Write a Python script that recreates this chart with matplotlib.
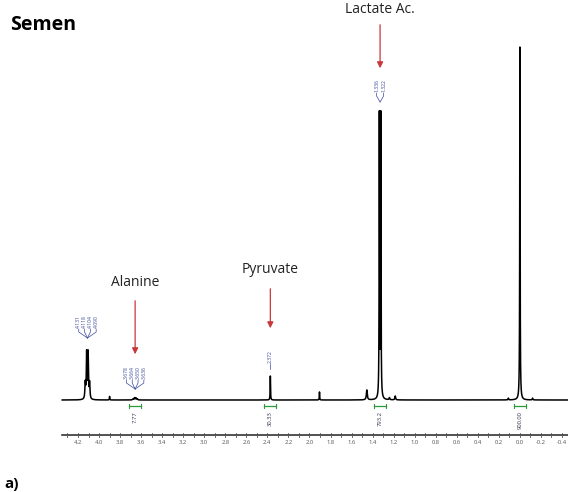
import numpy as np
import matplotlib
matplotlib.use("Agg")
import matplotlib.pyplot as plt

plt.rcParams['font.family'] = ['Open Sans', 'DejaVu Sans']

# ---- data (ppm, relative intensity where TSP = 100) ----
peak_ppm    = [4.131, 4.118, 4.104, 4.090, 3.900, 3.678, 3.664, 3.650, 3.636,
               2.372, 1.905, 1.455, 1.336, 1.322, 1.240, 1.185, 0.110, 0.000, -0.120]
peak_height = [4.5, 13.0, 13.0, 4.5, 1.0, 0.3, 0.6, 0.6, 0.3,
               6.8, 2.3, 2.8, 80.0, 80.0, 0.6, 1.1, 0.5, 100.0, 0.5]
peak_width  = [0.004, 0.0035, 0.0035, 0.004, 0.002, 0.004, 0.004, 0.004, 0.004,
               0.002, 0.002, 0.005, 0.0022, 0.0022, 0.004, 0.004, 0.003, 0.0022, 0.003]

integral_ppm = [3.657, 2.372, 1.329, 0.000]
integral_txt = ["7.77", "30.33", "793.2", "900.00"]

assign_ppm   = [3.657, 2.372, 1.329]
assign_names = ["Alanine", "Pyruvate", "Lactate Ac."]

multiplets = [
    (4.110, ["4.131", "4.118", "4.104", "4.090"]),
    (3.657, ["3.678", "3.664", "3.650", "3.636"]),
    (2.372, ["2.372"]),
    (1.329, ["1.336", "1.322"]),
]

tick_values = [4.2, 4.0, 3.8, 3.6, 3.4, 3.2, 3.0, 2.8, 2.6, 2.4, 2.2, 2.0,
               1.8, 1.6, 1.4, 1.2, 1.0, 0.8, 0.6, 0.4, 0.2, 0.0, -0.2, -0.4]

# ---- figure ----
fig = plt.figure(figsize=(5.68, 4.92), dpi=100)
ax = fig.add_axes([0, 0, 1, 1])
ax.axis('off')
pxu = 105.22          # pixels per ppm
ypu = 3.53            # pixels per intensity unit
ax.set_xlim(4.2 + 78 / pxu, -0.4 - 6 / pxu)
ax.set_ylim(-92 / ypu, 400 / ypu)

def X(px):  # pixel offset in ppm
    return px / pxu
def Y(py):
    return py / ypu

# spectrum
x = np.arange(4.35, -0.46, -0.0004)
y = np.zeros_like(x)
for p, h, w in zip(peak_ppm, peak_height, peak_width):
    y += h * w**2 / ((x - p)**2 + w**2)
ax.plot(x, y, color='black', lw=1.1, solid_joinstyle='round')

# integrals
for p, t in zip(integral_ppm, integral_txt):
    yb = -Y(6)
    ax.plot([p + X(6), p - X(6)], [yb, yb], color='#2e9a3c', lw=0.9)
    ax.plot([p + X(6), p + X(6)], [yb - Y(2), yb + Y(2)], color='#2e9a3c', lw=0.8)
    ax.plot([p - X(6), p - X(6)], [yb - Y(2), yb + Y(2)], color='#2e9a3c', lw=0.8)
    ax.text(p, yb - Y(5), t, rotation=90, ha='center', va='top',
            fontsize=4.2, color='#333355')

# multiplet labels
label_base = {4.110: 328, 3.657: 379, 2.372: 363, 1.329: 92}
for center, labs in multiplets:
    n = len(labs)
    base_px = label_base[center]
    step = 5.8 if n > 2 else 7
    for i, lab in enumerate(labs):
        xl = center + X((n - 1) / 2 * step) - X(i * step)
        yl = (400 - base_px) / ypu
        ax.text(xl, yl, lab, rotation=90, ha='center', va='bottom',
                fontsize=3.6, color='#3a4a9a')
        if n > 1:
            ax.plot([xl, xl, center], [yl - Y(1), yl - Y(4), yl - Y(10)],
                    color='#3a4a9a', lw=0.5)
    if n == 1:
        yl = (400 - base_px) / ypu
        ax.plot([center, center], [yl - Y(1), yl - Y(6)], color='#3a4a9a', lw=0.5)

# assignment labels with red arrows
arrow_spec = {3.657: (282, 298, 357), 2.372: (270, 286, 331), 1.329: (10, 22, 71)}
for p, name in zip(assign_ppm, assign_names):
    ty, y0, y1 = arrow_spec[p]
    ax.text(p, (400 - ty) / ypu, name, ha='center', va='center',
            fontsize=10, color='#222222')
    ax.annotate('', xy=(p, (400 - y1) / ypu), xytext=(p, (400 - y0) / ypu),
                arrowprops=dict(arrowstyle='-|>', color='#c8383a', lw=0.9,
                                mutation_scale=9))

# ppm axis
ya = -Y(35)
ax.plot([4.35, -0.46], [ya, ya], color='#222222', lw=1.1)
minor = np.arange(4.3, -0.46, -0.1)
for t in minor:
    ax.plot([t, t], [ya - Y(2), ya + Y(2)], color='#555555', lw=0.6)
for t in tick_values:
    ax.text(t, ya - Y(8), f"{t:.1f}", ha='center', va='center',
            fontsize=4.2, color='#555555')

fig.text(10 / 568, 1 - 25 / 492, "Semen", fontsize=14, fontweight='bold',
         ha='left', va='center')
fig.text(4 / 568, 1 - 484 / 492, "a)", fontsize=11, fontweight='bold',
         ha='left', va='center')

fig.savefig("out.png", dpi=100)
